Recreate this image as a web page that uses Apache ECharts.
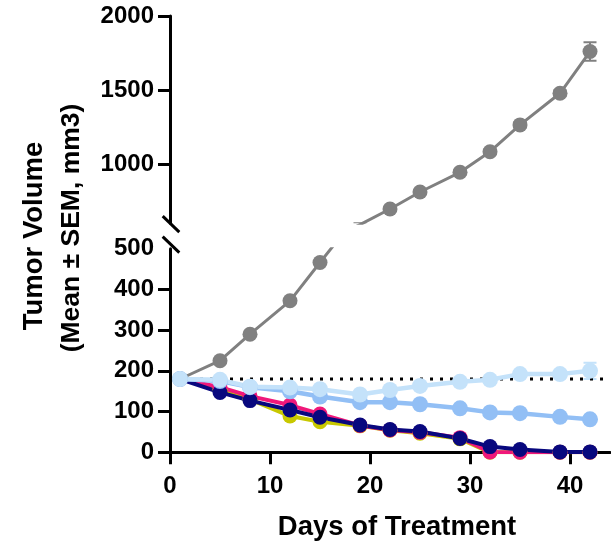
<!DOCTYPE html>
<html>
<head>
<meta charset="utf-8">
<script src="https://cdn.jsdelivr.net/npm/echarts@6/dist/echarts.min.js"></script>
<style>
  html, body { margin: 0; padding: 0; background: #ffffff; }
  #chart { width: 611px; height: 545px; }
</style>
</head>
<body>
<div id="chart"></div>
<script>
// Treatment days on which tumours were measured
const days = [1, 5, 8, 12, 15, 19, 22, 25, 29, 32, 35, 39, 42];

// Mean tumour volume (mm3) per group
const controlMean = [180, 225, 290, 372, 466, 590, 696, 811, 944, 1083, 1264, 1478, 1760];
const controlSem  = [3, 4, 5, 6, 7, 10, 12, 14, 15, 16, 18, 20, 63];
const yellowMean  = [180, 155, 130, 89, 75, 65, 54, 47, 33, 0, 0, 0, 0];
const pinkMean    = [180, 160, 138, 116, 94, 66, 55, 49, 36, 1, 0, 0, 0];
const navyMean    = [180, 147, 127, 104, 86, 67, 56, 51, 34, 14, 7, 1, 1];
const blueMean    = [180, 175, 160, 150, 137, 123, 123, 118, 108, 98, 96, 87, 81];
const skyMean     = [180, 178, 161, 159, 155, 142, 153, 163, 173, 178, 192, 192, 200];
const skySem      = [2, 3, 3, 4, 4, 5, 5, 6, 6, 7, 7, 8, 20];

// Starting volume reference
const baseline = 180;
const baselineSpan = [1, 44];

// Axis ticks
const xTicks = [0, 10, 20, 30, 40];
const upperTicks = [1000, 1500, 2000];
const lowerTicks = [0, 100, 200, 300, 400];
const lowerLabels = [0, 100, 200, 300, 400, 500];

const FONT = "'Liberation Sans', Arial, Helvetica, sans-serif";

const colors = {
  control: '#808080',
  yellow: '#C8C800',
  pink: '#F0187A',
  navy: '#08087E',
  blue: '#92BFF5',
  sky: '#C4E2FA'
};

const pts = arr => days.map((d, i) => [d, arr[i]]);

function lineSeries(name, values, color, grid, width, size) {
  return {
    name: name,
    type: 'line',
    xAxisIndex: grid,
    yAxisIndex: grid,
    data: pts(values),
    clip: true,
    symbol: 'circle',
    symbolSize: size,
    showSymbol: true,
    lineStyle: { color: color, width: width },
    itemStyle: { color: color },
    emphasis: { disabled: true },
    animation: false
  };
}

function errorBars(values, sem, color, grid) {
  return {
    type: 'custom',
    xAxisIndex: grid,
    yAxisIndex: grid,
    clip: true,
    animation: false,
    encode: { x: 0, y: [1, 2] },
    data: days.map((d, i) => [d, values[i] - sem[i], values[i] + sem[i]]),
    renderItem: function (params, api) {
      const x = api.value(0);
      const lo = api.coord([x, api.value(1)]);
      const hi = api.coord([x, api.value(2)]);
      const hw = 6.5;
      const st = { stroke: color, lineWidth: 2 };
      return {
        type: 'group',
        children: [
          { type: 'line', shape: { x1: lo[0], y1: lo[1], x2: hi[0], y2: hi[1] }, style: st },
          { type: 'line', shape: { x1: hi[0] - hw, y1: hi[1], x2: hi[0] + hw, y2: hi[1] }, style: st },
          { type: 'line', shape: { x1: lo[0] - hw, y1: lo[1], x2: lo[0] + hw, y2: lo[1] }, style: st }
        ]
      };
    }
  };
}

const plain = v => String(v);
const axisLabelStyle = { color: '#000', fontSize: 24, fontWeight: 'bold', fontFamily: FONT, formatter: plain };
const axisLineStyle = { show: true, lineStyle: { color: '#000', width: 3 } };

const chart = echarts.init(document.getElementById('chart'), null, { renderer: 'canvas' });

chart.setOption({
  animation: false,
  backgroundColor: '#ffffff',
  grid: [
    { left: 170, right: 1, top: 16, height: 207.2 },
    { left: 170, right: 1, top: 248.7, height: 203.6 }
  ],
  xAxis: [
    { gridIndex: 0, type: 'value', min: 0, max: 44, show: false },
    {
      gridIndex: 1, type: 'value', min: 0, max: 44, interval: 10,
      axisLine: axisLineStyle,
      axisTick: { show: true, length: 12, inside: false, customValues: xTicks, lineStyle: { color: '#000', width: 3 } },
      axisLabel: Object.assign({ margin: 22, customValues: xTicks }, axisLabelStyle),
      splitLine: { show: false }
    }
  ],
  yAxis: [
    {
      gridIndex: 0, type: 'value', min: 600, max: 2000,
      axisLine: axisLineStyle,
      axisTick: { show: true, length: 12, customValues: upperTicks, lineStyle: { color: '#000', width: 3 } },
      axisLabel: Object.assign({ margin: 16, customValues: upperTicks }, axisLabelStyle),
      splitLine: { show: false }
    },
    {
      gridIndex: 1, type: 'value', min: 0, max: 500, interval: 100,
      axisLine: axisLineStyle,
      axisTick: { show: true, length: 12, customValues: lowerTicks, lineStyle: { color: '#000', width: 3 } },
      axisLabel: Object.assign({ margin: 16, customValues: lowerLabels }, axisLabelStyle),
      splitLine: { show: false }
    }
  ],
  series: [
    {
      type: 'line', xAxisIndex: 1, yAxisIndex: 1, showSymbol: false, silent: true,
      data: baselineSpan.map(d => [d, baseline]),
      lineStyle: { color: '#000', width: 3, type: [3, 7] },
      animation: false
    },
    errorBars(controlMean, controlSem, colors.control, 0),
    lineSeries('Control', controlMean, colors.control, 0, 3, 15),
    lineSeries('Control', controlMean, colors.control, 1, 3, 15),
    lineSeries('Group 1', yellowMean, colors.yellow, 1, 4, 15),
    lineSeries('Group 2', pinkMean, colors.pink, 1, 4, 15),
    lineSeries('Group 3', navyMean, colors.navy, 1, 4, 15),
    lineSeries('Group 4', blueMean, colors.blue, 1, 4.5, 16),
    errorBars(skyMean, skySem, colors.sky, 1),
    lineSeries('Group 5', skyMean, colors.sky, 1, 4.5, 16)
  ]
});

// Axis break marks and titles
const upperEnd = chart.convertToPixel({ xAxisIndex: 0, yAxisIndex: 0 }, [0, 600]);
const lowerEnd = chart.convertToPixel({ xAxisIndex: 1, yAxisIndex: 1 }, [0, 500]);
const slash = (cx, cy) => ({
  type: 'line',
  shape: { x1: cx - 8.3, y1: cy - 8, x2: cx + 8.3, y2: cy + 8 },
  style: { stroke: '#000', lineWidth: 3 }
});
const titleFont = 'bold 27.5px ' + FONT;

chart.setOption({
  graphic: [
    slash(upperEnd[0] + 1, upperEnd[1] + 1),
    slash(lowerEnd[0] + 1, lowerEnd[1] - 4),
    {
      type: 'text', x: 34, y: 236, rotation: Math.PI / 2,
      style: { text: 'Tumor Volume', font: titleFont, fill: '#000', align: 'center', verticalAlign: 'middle' }
    },
    {
      type: 'text', x: 72, y: 228, rotation: Math.PI / 2,
      style: { text: '(Mean \u00B1 SEM, mm3)', font: 'bold 26.5px ' + FONT, fill: '#000', align: 'center', verticalAlign: 'middle' }
    },
    {
      type: 'text', x: 397, y: 527,
      style: { text: 'Days of Treatment', font: titleFont, fill: '#000', align: 'center', verticalAlign: 'middle' }
    }
  ]
});
</script>
</body>
</html>
